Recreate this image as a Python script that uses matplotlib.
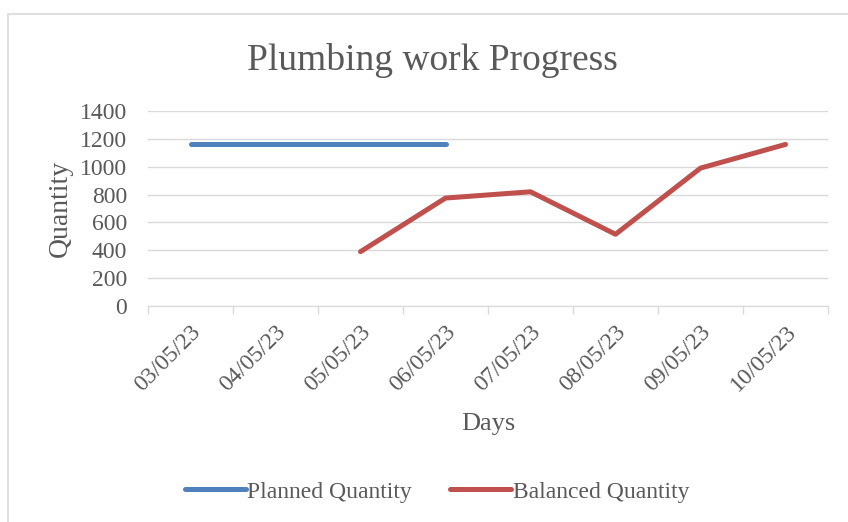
import numpy as np
import matplotlib.pyplot as plt
from matplotlib.patches import Rectangle

days = ['03/05/23', '04/05/23', '05/05/23', '06/05/23',
        '07/05/23', '08/05/23', '09/05/23', '10/05/23']
planned = [1160, 1160, 1160, 1160, np.nan, np.nan, np.nan, np.nan]
balanced = [np.nan, np.nan, 390, 775, 820, 515, 990, 1160]

plt.rcParams['font.family'] = ['Liberation Serif', 'DejaVu Serif']
txt = '#595959'

fig = plt.figure(figsize=(8.48, 5.22), dpi=100)
fig.patches.append(Rectangle((8/848, -0.01), 1.0, 1 - 14/522 + 0.01,
                             transform=fig.transFigure, fill=False,
                             edgecolor='#D9D9D9', linewidth=1.2))

ax = fig.add_axes([148/848, 1 - 306/522, 680/848, 195/522])
x = np.arange(len(days))
ax.plot(x, planned, color='#4F81BD', lw=3.6, solid_capstyle='round',
        label='Planned Quantity')
ax.plot(x, balanced, color='#C0504D', lw=3.6, solid_capstyle='round',
        label='Balanced Quantity')

ax.set_xlim(-0.5, len(days) - 0.5)
ax.set_ylim(0, 1400)
ax.set_yticks(range(0, 1401, 200))
ax.yaxis.grid(True, color='#D9D9D9', lw=1)
ax.set_axisbelow(True)
ax.tick_params(axis='y', length=0, labelsize=17, labelcolor=txt, pad=15)

ax.set_xticks(x)
ax.set_xticklabels(days, rotation=45, ha='right', va='top',
                   rotation_mode='anchor', fontsize=17, color=txt)
ax.tick_params(axis='x', which='major', length=0, pad=11)
ax.set_xticks(np.arange(-0.5, len(days)), minor=True)
ax.tick_params(axis='x', which='minor', length=6, color='#D9D9D9', width=1)

for s in ['top', 'right', 'left']:
    ax.spines[s].set_visible(False)
ax.spines['bottom'].set_color('#D9D9D9')

ax.set_ylabel('Quantity', fontsize=20, color=txt, labelpad=5)
ax.set_xlabel('Days', fontsize=19, color=txt, labelpad=13)
fig.text(432/848, 1 - 60/522, 'Plumbing work Progress', fontsize=27,
         color=txt, ha='center', va='center')

fig.legend(loc='center', bbox_to_anchor=(437/848, 1 - 492/522), ncol=2,
           frameon=False, fontsize=17, labelcolor=txt, handlelength=2.6,
           handletextpad=0.05, columnspacing=1.6)

fig.savefig('out.png', dpi=100)
